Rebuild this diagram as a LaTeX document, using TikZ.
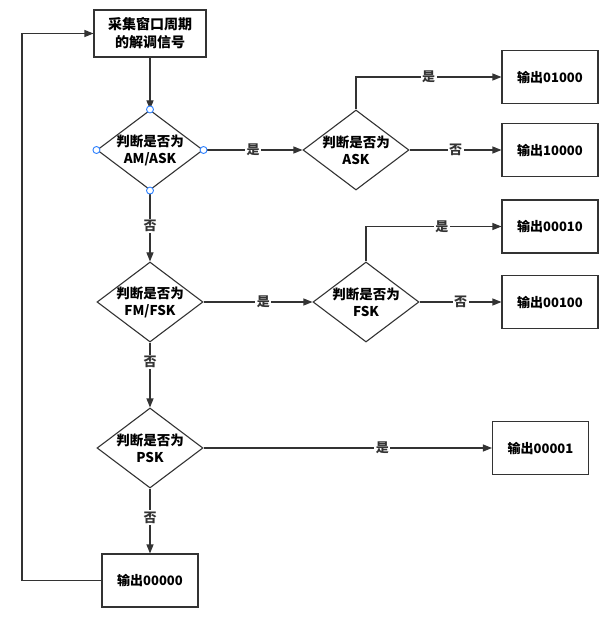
\documentclass[tikz,border=0pt]{standalone}
\usepackage{fontspec}
\setmainfont{Noto Sans CJK SC}
\usetikzlibrary{arrows.meta,shapes.geometric}
\definecolor{ink}{HTML}{333333}
\definecolor{handle}{HTML}{2A7FFF}
\tikzset{
  box/.style={draw=ink,line width=1.1pt,align=center,inner sep=2pt,font=\fontsize{13}{16}\selectfont\bfseries},
  outbox/.style={box,minimum width=96pt,minimum height=53pt},
  decide/.style={diamond,draw=ink,line width=1.1pt,inner sep=0pt,minimum width=106pt,minimum height=80pt},
  decidetext/.style={align=center,font=\fontsize{13.5}{17}\selectfont\bfseries},
  arr/.style={-{Triangle[length=9pt,width=7pt]},line width=1.1pt,color=ink},
  lbl/.style={fill=white,inner sep=1.5pt,font=\fontsize{13}{14}\selectfont\bfseries},
  handlept/.style={draw=handle,fill=white,line width=0.9pt}
}
\begin{document}
\begin{tikzpicture}[x=1pt,y=-1pt]
  \useasboundingbox (0,0) rectangle (613,624);
  \node[box,font=\fontsize{14}{18}\selectfont\bfseries,minimum width=112pt,minimum height=47pt] (start) at (150,33.5) {采集窗口周期\\的解调信号};
  % first decision
  \node[decide,label={[decidetext]center:判断是否为\\AM/ASK}] (amask) at (150,150) {};
  \node[decide,label={[decidetext]center:判断是否为\\ASK}] (ask) at (356,150) {};
  \node[outbox] (o1) at (550,77) {输出01000};
  \node[outbox] (o2) at (550,150) {输出10000};
  % second decision
  \node[decide,label={[decidetext]center:判断是否为\\FM/FSK}] (fmfsk) at (150,302) {};
  \node[decide,label={[decidetext]center:判断是否为\\FSK}] (fsk) at (366,302) {};
  \node[outbox] (o3) at (550,226.5) {输出00010};
  \node[outbox] (o4) at (550,302) {输出00100};
  % third decision
  \node[decide,label={[decidetext]center:判断是否为\\PSK}] (psk) at (150,448) {};
  \node[outbox] (o5) at (540.5,448) {输出00001};
  \node[outbox] (o0) at (150,580.5) {输出00000};
  \coordinate (back) at (22,0);

  \draw[arr] (start) -- (amask);
  \draw[arr] (amask) -- node[lbl]{是} (ask);
  \draw[arr] (ask.north) |- node[lbl,pos=0.75]{是} (o1);
  \draw[arr] (ask) -- node[lbl]{否} (o2);
  \draw[arr] (amask) -- node[lbl]{否} (fmfsk);
  \draw[arr] (fmfsk) -- node[lbl,pos=0.55]{是} (fsk);
  \draw[arr] (fsk.north) |- node[lbl,pos=0.78]{是} (o3);
  \draw[arr] (fsk) -- node[lbl]{否} (o4);
  \draw[arr] (fmfsk) -- node[lbl,pos=0.3]{否} (psk);
  \draw[arr] (psk) -- node[lbl,pos=0.62]{是} (o5);
  \draw[arr] (psk) -- node[lbl,pos=0.45]{否} (o0);
  \draw[arr] (o0.west) -- (o0.west -| back) |- (start.west);

  \foreach \a in {north,south,east,west}
    \draw[handlept] (amask.\a) circle (3.5pt);
\end{tikzpicture}
\end{document}
